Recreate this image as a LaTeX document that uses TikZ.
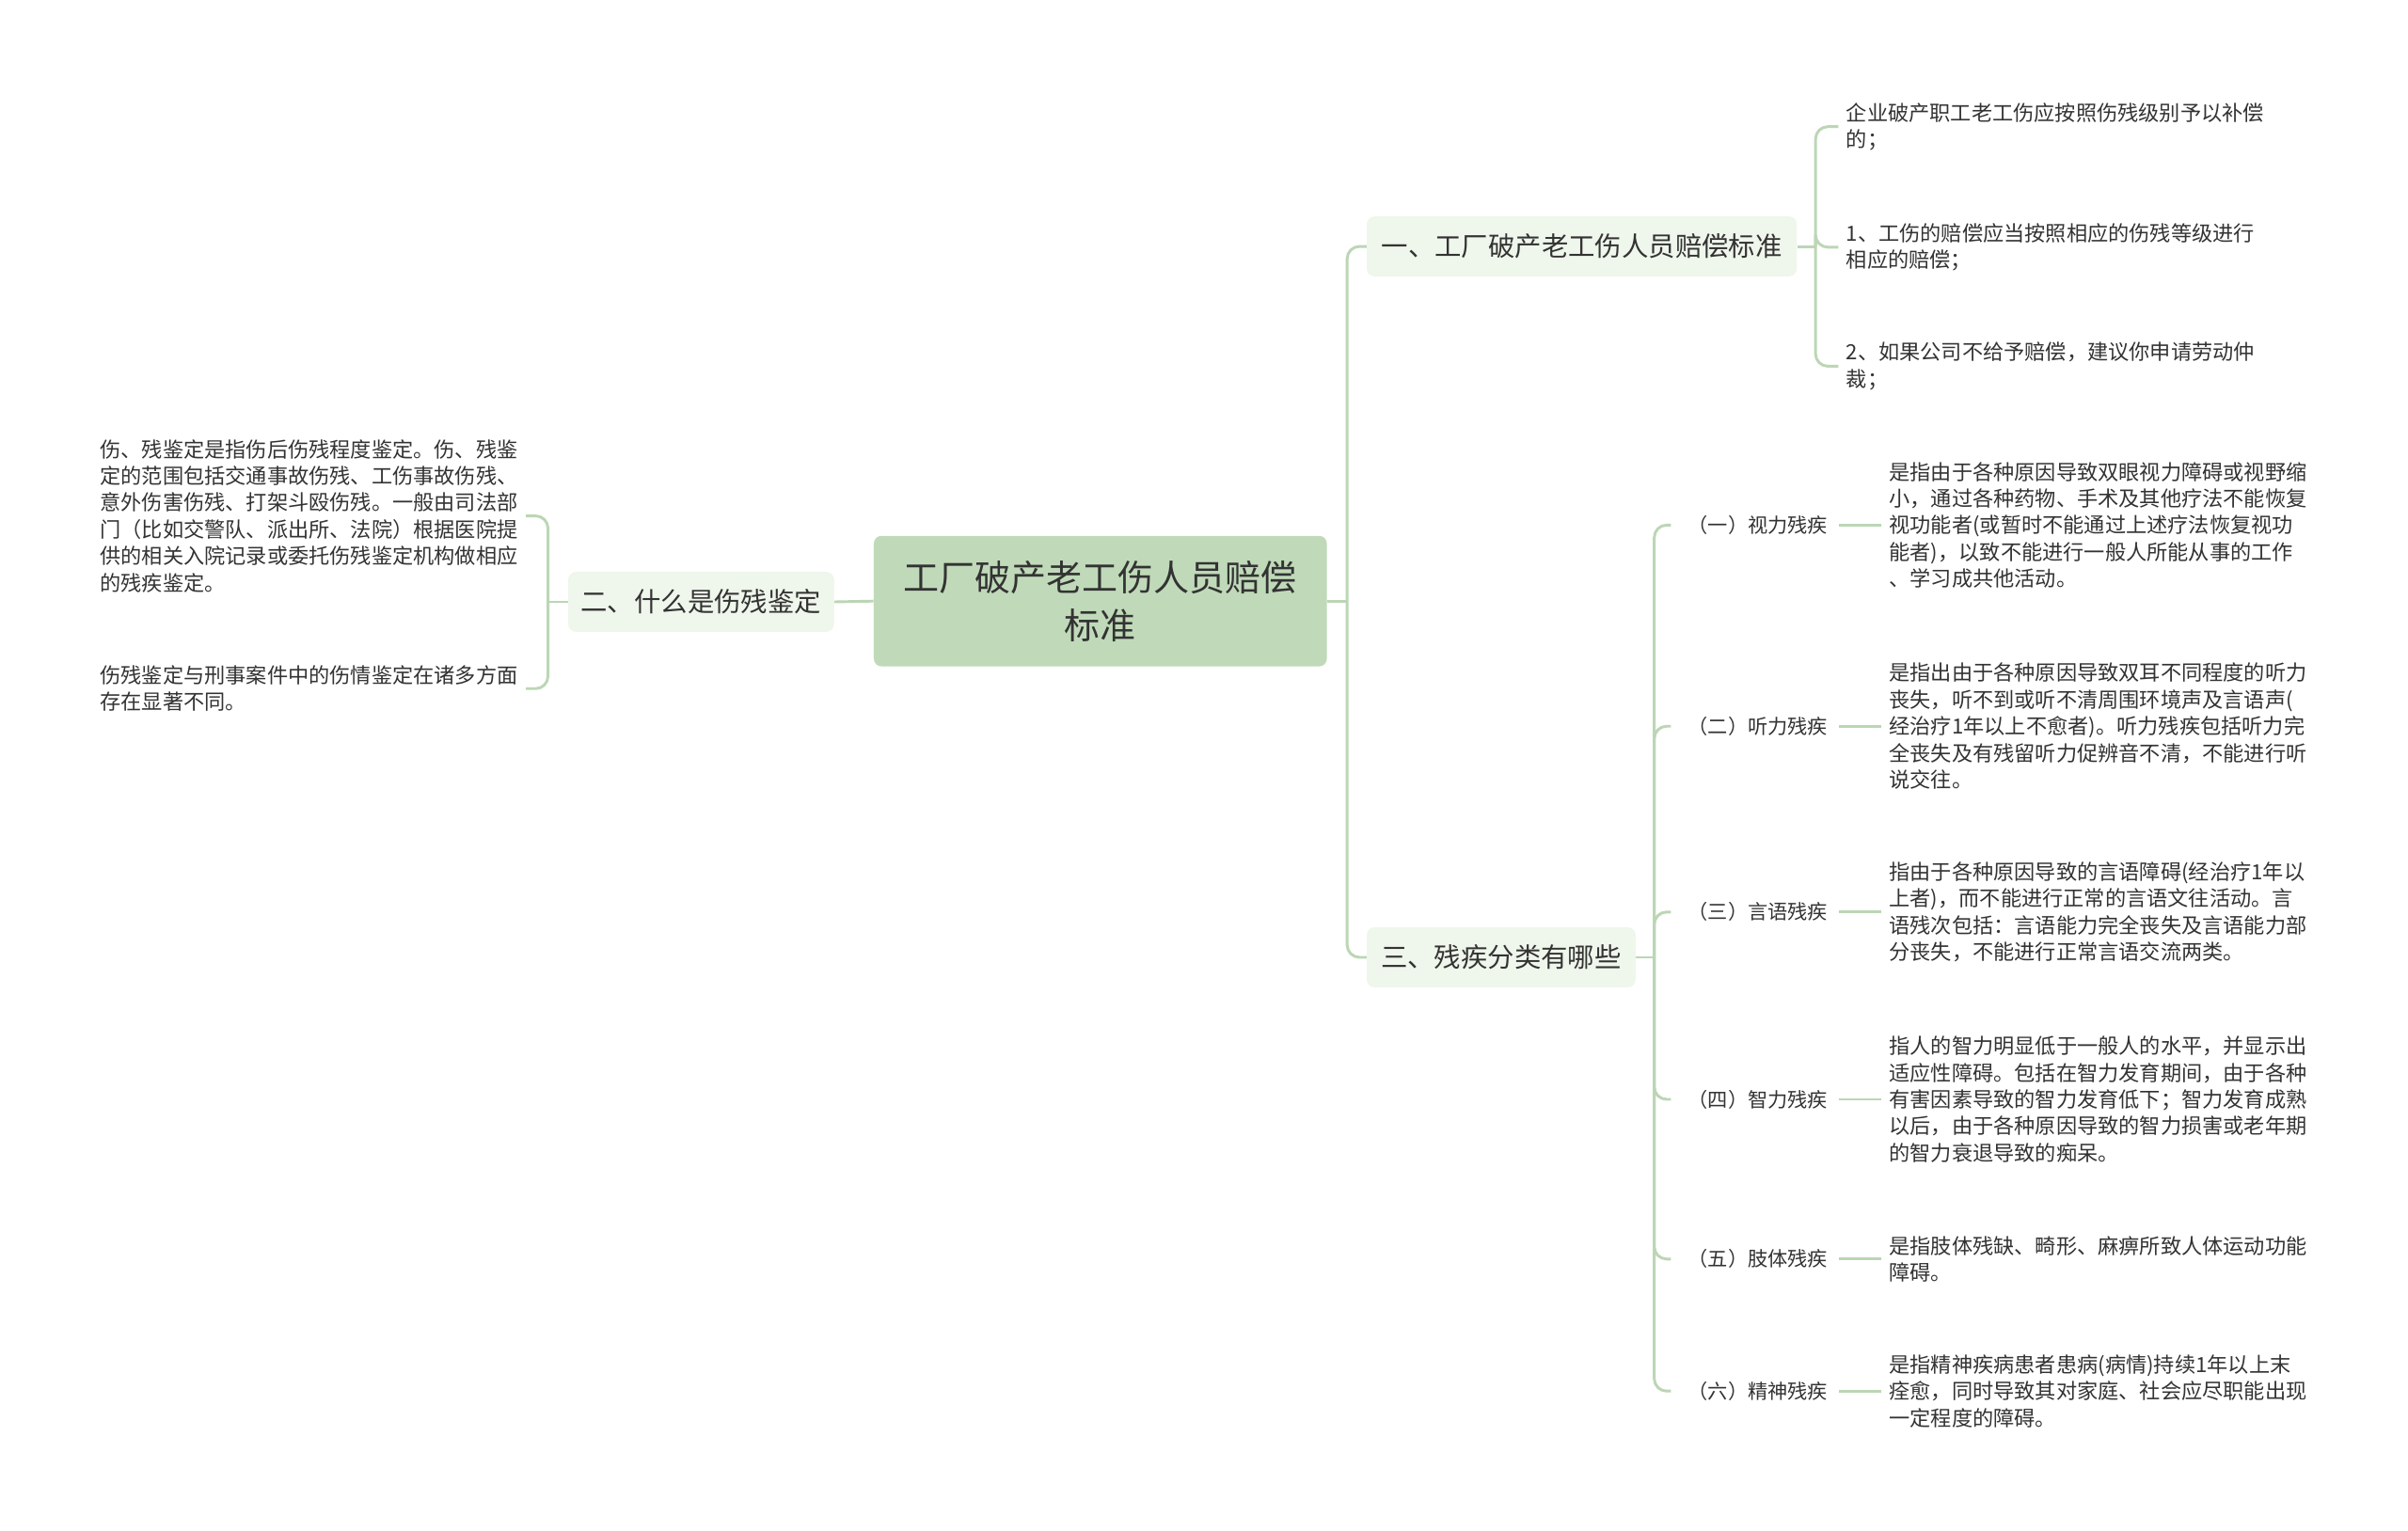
\documentclass[tikz,border=0pt]{standalone}
\usepackage{fontspec}
\setmainfont{Noto Sans CJK SC}
\usetikzlibrary{positioning}
\definecolor{rootgreen}{RGB}{192,218,185}
\definecolor{topicgreen}{RGB}{239,246,235}
\definecolor{linegreen}{RGB}{188,214,181}
\definecolor{inkgray}{RGB}{51,51,51}
\tikzset{
  rootbox/.style={fill=rootgreen, rounded corners=5pt, minimum width=295pt, minimum height=85pt, align=center, text=inkgray, font=\fontsize{23.3}{31}\selectfont},
  topicbox/.style={fill=topicgreen, rounded corners=5pt, minimum height=39pt, text=inkgray, font=\fontsize{17.4}{21}\selectfont},
  leaftext/.style={align=left, inner xsep=5pt, inner ysep=2pt, anchor=west, text=inkgray, font=\fontsize{13.6}{17.4}\selectfont},
  tagtext/.style={inner xsep=7pt, anchor=west, text=inkgray, font=\fontsize{13}{17}\selectfont},
  link/.style={draw=linegreen, line width=1.8pt, rounded corners=8pt},
}

\begin{document}
\begin{tikzpicture}[x=1pt, y=-1pt]
    % 画布大小
    \useasboundingbox (0,0) rectangle (1568,997);
    \fill[white] (0,0) rectangle (1568,997);

    % 中心主题
    \node[rootbox] (root) at (716.5,391.5) {工厂破产老工伤人员赔偿\\标准};

    % 三个分支主题
    \node[topicbox, minimum width=280pt] (b1) at (1030,160.5) {一、工厂破产老工伤人员赔偿标准};
    \node[topicbox, minimum width=173pt] (b2) at (456.5,392) {二、什么是伤残鉴定};
    \node[topicbox, minimum width=175pt] (b3) at (977.5,623.5) {三、残疾分类有哪些};

    % 分支一的内容
    \node[leaftext] (a1) at (1197,82.5) {企业破产职工老工伤应按照伤残级别予以补偿\\的；};
    \node[leaftext] (a2) at (1197,161) {1、工伤的赔偿应当按照相应的伤残等级进行\\相应的赔偿；};
    \node[leaftext] (a3) at (1197,238.5) {2、如果公司不给予赔偿，建议你申请劳动仲\\裁；};

    % 分支二的内容
    \node[leaftext] (c1) at (60,336) {伤、残鉴定是指伤后伤残程度鉴定。伤、残鉴\\定的范围包括交通事故伤残、工伤事故伤残、\\意外伤害伤残、打架斗殴伤残。一般由司法部\\门（比如交警队、派出所、法院）根据医院提\\供的相关入院记录或委托伤残鉴定机构做相应\\的残疾鉴定。};
    \node[leaftext] (c2) at (60,448.5) {伤残鉴定与刑事案件中的伤情鉴定在诸多方面\\存在显著不同。};

    % 分支三的小标题
    \node[tagtext] (s1) at (1092,342) {（一）视力残疾};
    \node[tagtext] (s2) at (1092,473) {（二）听力残疾};
    \node[tagtext] (s3) at (1092,594) {（三）言语残疾};
    \node[tagtext] (s4) at (1092,716) {（四）智力残疾};
    \node[tagtext] (s5) at (1092,820) {（五）肢体残疾};
    \node[tagtext] (s6) at (1092,906) {（六）精神残疾};

    % 分支三的说明
    \node[leaftext] (d1) at (1225,342) {是指由于各种原因导致双眼视力障碍或视野缩\\小，通过各种药物、手术及其他疗法不能恢复\\视功能者(或暂时不能通过上述疗法恢复视功\\能者)，以致不能进行一般人所能从事的工作\\、学习成共他活动。};
    \node[leaftext] (d2) at (1225,473) {是指出由于各种原因导致双耳不同程度的听力\\丧失，听不到或听不清周围环境声及言语声(\\经治疗1年以上不愈者)。听力残疾包括听力完\\全丧失及有残留听力促辨音不清，不能进行听\\说交往。};
    \node[leaftext] (d3) at (1225,594) {指由于各种原因导致的言语障碍(经治疗1年以\\上者)，而不能进行正常的言语文往活动。言\\语残次包括：言语能力完全丧失及言语能力部\\分丧失，不能进行正常言语交流两类。};
    \node[leaftext] (d4) at (1225,716) {指人的智力明显低于一般人的水平，并显示出\\适应性障碍。包括在智力发育期间，由于各种\\有害因素导致的智力发育低下；智力发育成熟\\以后，由于各种原因导致的智力损害或老年期\\的智力衰退导致的痴呆。};
    \node[leaftext] (d5) at (1225,820) {是指肢体残缺、畸形、麻痹所致人体运动功能\\障碍。};
    \node[leaftext] (d6) at (1225,906) {是指精神疾病患者患病(病情)持续1年以上末\\痊愈，同时导致其对家庭、社会应尽职能出现\\一定程度的障碍。};

    % 连线的转折点
    \coordinate (jr) at ([xshift=13pt]root.east);
    \coordinate (j1) at ([xshift=12pt]b1.east);
    \coordinate (j2) at ([xshift=-13pt]b2.west);
    \coordinate (j3) at ([xshift=12pt]b3.east);

    % 中心到分支
    \draw[link] (root.east) -- (jr);
    \draw[link] (root.west) -- (b2.east);
    \draw[link] (jr) |- (b1.west);
    \draw[link] (jr) |- (b3.west);

    % 分支一
    \draw[link] (b1.east) -- (j1);
    \foreach \i in {1,2,3}
        \draw[link] (j1) |- (a\i.west);

    % 分支二
    \draw[link] (b2.west) -- (j2);
    \draw[link] (j2) |- (c1.east);
    \draw[link] (j2) |- (c2.east);

    % 分支三
    \draw[link] (b3.east) -- (j3);
    \foreach \i in {1,...,6} {
        \draw[link] (j3) |- ([xshift=-4pt]s\i.west);
        \draw[link] (s\i.east) -- (d\i.west);
    }
\end{tikzpicture}
\end{document}
